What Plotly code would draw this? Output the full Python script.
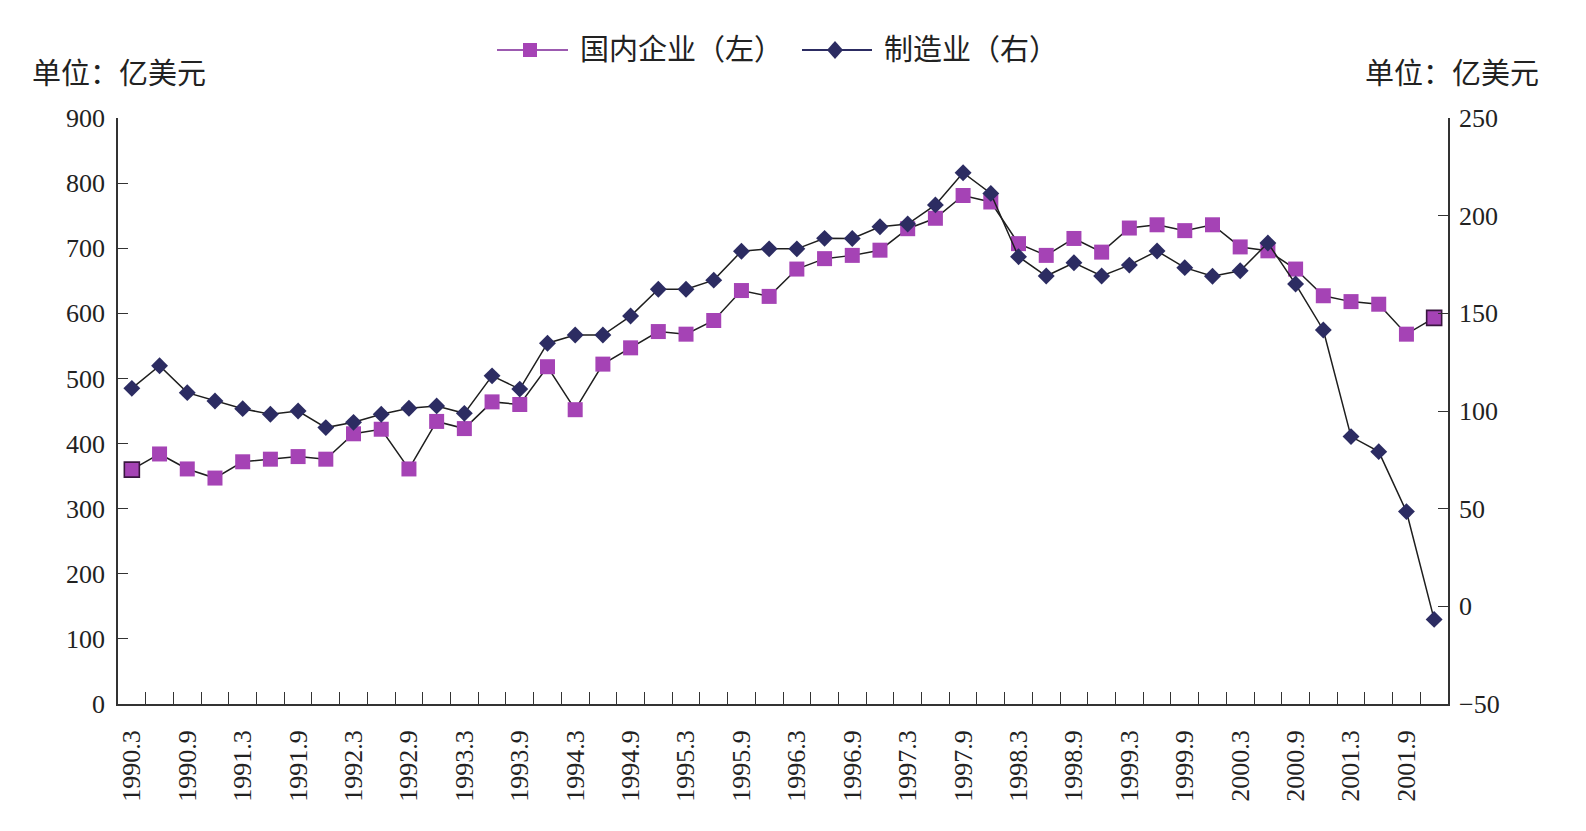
import plotly.graph_objects as go

# ---- data ----
years = list(range(1990, 2002))
months = [3, 6, 9, 12]
quarters = [f"{y}.{m}" for y in years for m in months]

domestic = [360, 384, 361, 347, 372, 376, 380, 376,
            415, 422, 361, 434, 423, 464, 460, 518,
            452, 522, 547, 572, 568, 589, 635, 626,
            668, 684, 689, 697, 730, 746, 781, 771,
            707, 689, 715, 694, 731, 736, 727, 736,
            702, 696, 668, 627, 618, 614, 568, 593]

manufacturing = [111.6, 123.2, 109.4, 105.1, 101.2, 98.3, 100, 91.5,
                 94.2, 98.3, 101.4, 102.6, 98.8, 118, 111.2, 134.7,
                 138.9, 138.9, 148.6, 162.3, 162.3, 167, 181.8, 183,
                 183, 188.4, 188.3, 194.3, 195.7, 205.5, 222, 211.4,
                 179, 169.1, 175.9, 169.1, 174.7, 181.9, 173.4, 169,
                 171.8, 186, 165, 141.5, 86.9, 79.2, 48.5, -6.7]

tick_labels = [q if i % 2 == 0 else "" for i, q in enumerate(quarters)]

series_names = ["国内企业（左）", "制造业（右）"]
unit_text = "单位：亿美元"

# ---- styling ----
W, H = 1586, 831
ML, MR, MT, MB = 118, 138, 118, 127
PW, PH = W - ML - MR, H - MT - MB
PURPLE = "#A543B5"
NAVY = "#2C2C62"
LINE = "#1E1E1E"
AX = "#333333"
FONT = "Liberation Serif, Noto Sans CJK SC, serif"

n = len(quarters)
sq_line_w = [1.6 if i in (0, n - 1) else 0 for i in range(n)]

fig = go.Figure()
fig.add_trace(go.Scatter(
    x=quarters, y=domestic, mode="lines+markers", name=series_names[0],
    line=dict(color=LINE, width=1.5),
    marker=dict(symbol="square", size=15, color=PURPLE,
                line=dict(color="#3A1640", width=sq_line_w)),
    showlegend=False, yaxis="y"))
fig.add_trace(go.Scatter(
    x=quarters, y=manufacturing, mode="lines+markers", name=series_names[1],
    line=dict(color=LINE, width=1.5),
    marker=dict(symbol="diamond", size=13, color=NAVY),
    showlegend=False, yaxis="y2"))


def px2paper(px, py):
    return (px - ML) / PW, (H - MB - py) / PH


shapes = []
annotations = []

# manual legend
leg_y = 50
for (x0, x1, xm, xt, color, lcolor, sym, label) in [
        (497, 568, 530, 578, PURPLE, "#9C5AB0", "square", series_names[0]),
        (802, 872, 835, 882, NAVY, NAVY, "diamond", series_names[1])]:
    a0, b = px2paper(x0, leg_y)
    a1, _ = px2paper(x1, leg_y)
    shapes.append(dict(type="line", xref="paper", yref="paper", x0=a0, x1=a1,
                       y0=b, y1=b, line=dict(color=lcolor, width=1.8)))
    if sym == "square":
        s0x, s0y = px2paper(xm - 7, leg_y + 7)
        s1x, s1y = px2paper(xm + 7, leg_y - 7)
        shapes.append(dict(type="rect", xref="paper", yref="paper",
                           x0=s0x, x1=s1x, y0=s0y, y1=s1y,
                           fillcolor=color, line=dict(width=0)))
    else:
        pts = [px2paper(xm, leg_y - 9), px2paper(xm + 8, leg_y),
               px2paper(xm, leg_y + 9), px2paper(xm - 8, leg_y)]
        path = "M" + " L".join(f"{p[0]},{p[1]}" for p in pts) + " Z"
        shapes.append(dict(type="path", xref="paper", yref="paper", path=path,
                           fillcolor=color, line=dict(width=0)))
    tx, ty = px2paper(xt, leg_y)
    annotations.append(dict(text=label, xref="paper", yref="paper", x=tx, y=ty,
                            xanchor="left", yanchor="middle", showarrow=False,
                            font=dict(family=FONT, size=29, color="#222")))

# unit labels
ux, uy = px2paper(30, 74)
annotations.append(dict(text=unit_text, xref="paper", yref="paper", x=ux, y=uy,
                        xanchor="left", yanchor="middle", showarrow=False,
                        font=dict(family=FONT, size=29, color="#222")))
ux2, _ = px2paper(1541, 74)
annotations.append(dict(text=unit_text, xref="paper", yref="paper", x=ux2, y=uy,
                        xanchor="right", yanchor="middle", showarrow=False,
                        font=dict(family=FONT, size=29, color="#222")))

tickfont = dict(family=FONT, size=26, color="#222")

fig.update_layout(
    width=W, height=H,
    margin=dict(l=ML, r=MR, t=MT, b=MB, autoexpand=False),
    paper_bgcolor="white", plot_bgcolor="white",
    showlegend=False,
    shapes=shapes, annotations=annotations,
    xaxis=dict(type="category", range=[-0.5, n - 0.5],
               tickmode="array", tickvals=quarters, ticktext=tick_labels,
               tickson="boundaries", ticks="inside", ticklen=12,
               tickcolor=AX, tickwidth=1.3, tickangle=-90,
               ticklabelstandoff=14,
               showline=True, linecolor=AX, linewidth=1.6,
               showgrid=False, zeroline=False, tickfont=tickfont),
    yaxis=dict(range=[0, 900], tickmode="linear", tick0=0, dtick=100,
               ticks="inside", ticklen=10, tickcolor=AX, tickwidth=1.3,
               showline=True, linecolor=AX, linewidth=1.6,
               ticklabelstandoff=6,
               showgrid=False, zeroline=False, tickfont=tickfont),
    yaxis2=dict(range=[-50, 250], tickmode="linear", tick0=-50, dtick=50,
                overlaying="y", side="right",
                ticks="inside", ticklen=10, tickcolor=AX, tickwidth=1.3,
                showline=True, linecolor=AX, linewidth=1.6,
                ticklabelstandoff=4,
                showgrid=False, zeroline=False, tickfont=tickfont),
)

fig.write_html("out.html")
